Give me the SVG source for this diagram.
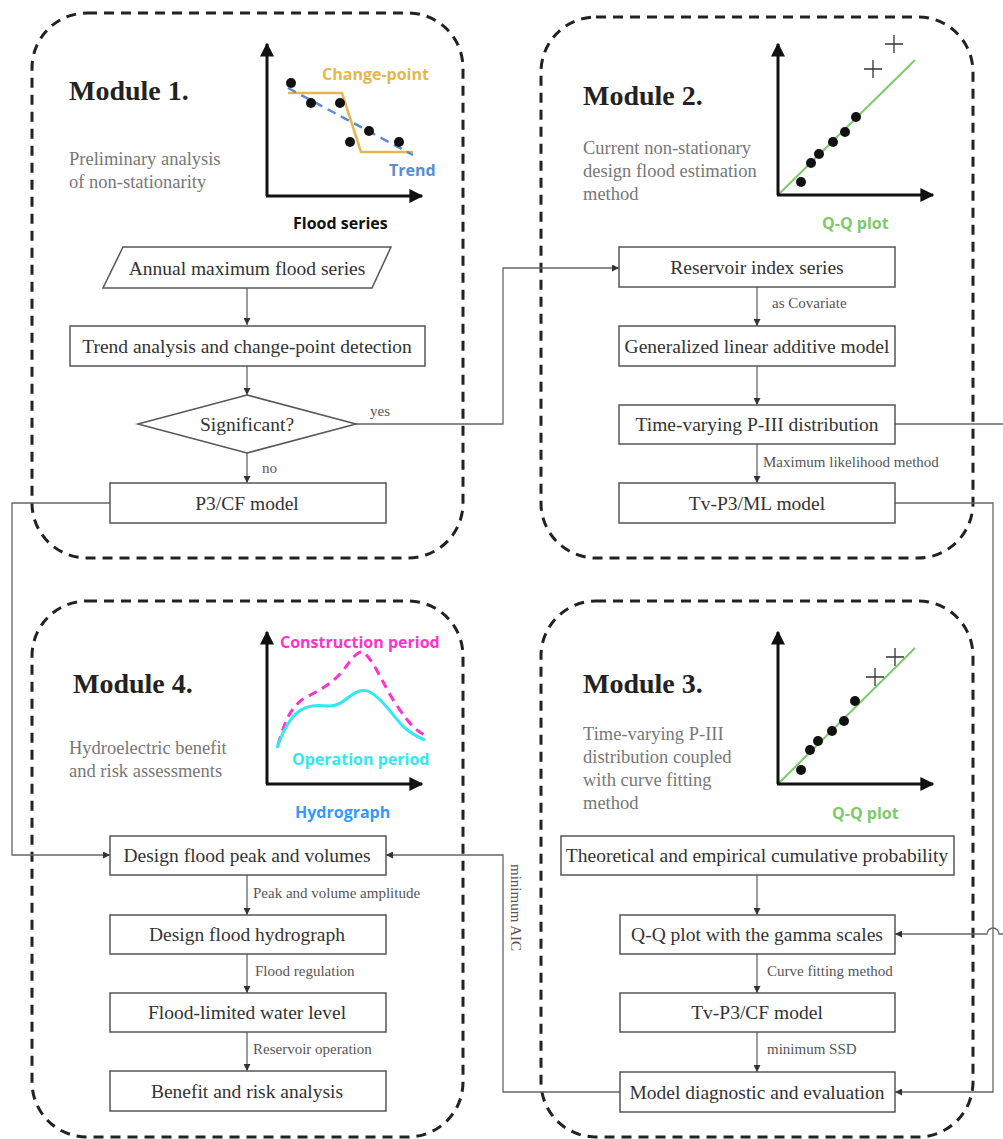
<svg xmlns="http://www.w3.org/2000/svg" width="1003" height="1139" viewBox="0 0 1003 1139">
<defs>
<marker id="ah" viewBox="0 0 10 10" refX="10" refY="5" markerWidth="7" markerHeight="7" markerUnits="userSpaceOnUse" orient="auto"><path d="M0,0 L10,5 L0,10 z" fill="#333"/></marker>
<marker id="ax" viewBox="0 0 10 10" refX="9" refY="5" markerWidth="14" markerHeight="14" markerUnits="userSpaceOnUse" orient="auto"><path d="M0,0 L10,5 L0,10 z" fill="#111"/></marker>
<style>
.mod{fill:none;stroke:#222;stroke-width:3;stroke-dasharray:10 7}
.box{fill:#fff;stroke:#555;stroke-width:1.5}
.bt{font-family:"Liberation Serif",serif;font-size:19.5px;fill:#333;text-anchor:middle}
.title{font-family:"Liberation Serif",serif;font-size:28px;font-weight:bold;fill:#222}
.desc{font-family:"Liberation Serif",serif;font-size:18.5px;fill:#777}
.lbl{font-family:"Liberation Serif",serif;font-size:15px;fill:#555}
.con{fill:none;stroke:#666;stroke-width:1.3}
.axis{fill:none;stroke:#111;stroke-width:3}
.ct{font-family:"Open Sans","DejaVu Sans",sans-serif;font-weight:bold;font-size:16px}
.dot{fill:#111}
.cross{stroke:#333;stroke-width:1.3}
</style>
</defs>

<g id="module1">
<rect class="mod" x="32" y="13" width="431" height="545" rx="55"/>
<text class="title" x="69" y="100">Module 1.</text>
<text class="desc" x="69" y="165">Preliminary analysis</text>
<text class="desc" x="69" y="188">of non-stationarity</text>
<g id="chart1">
<line class="axis" x1="267" y1="196" x2="267" y2="44" marker-end="url(#ax)"/>
<line class="axis" x1="266" y1="196" x2="422" y2="196" marker-end="url(#ax)"/>
<polyline points="288,93 342,93 361,152 413,152" fill="none" stroke="#E2B84F" stroke-width="2.5"/>
<line x1="288" y1="88" x2="413" y2="155" stroke="#5B8BD0" stroke-width="2.5" stroke-dasharray="9 6"/>
<circle class="dot" cx="291" cy="83" r="5"/><circle class="dot" cx="311" cy="103" r="5"/><circle class="dot" cx="340" cy="103" r="5"/><circle class="dot" cx="350" cy="142" r="5"/><circle class="dot" cx="369" cy="131" r="5"/><circle class="dot" cx="399" cy="142" r="5"/>
<text class="ct" x="322" y="80" fill="#E2B84F">Change-point</text>
<text class="ct" x="389" y="176" fill="#5B8BD0">Trend</text>
<text class="ct" x="293" y="229" fill="#111">Flood series</text>
</g>
</g>

<g id="module2">
<rect class="mod" x="541" y="17" width="432" height="541" rx="55"/>
<text class="title" x="583" y="105">Module 2.</text>
<text class="desc" x="583" y="154">Current non-stationary</text>
<text class="desc" x="583" y="177">design flood estimation</text>
<text class="desc" x="583" y="200">method</text>
<g id="chart2">
<line x1="778" y1="195" x2="915" y2="60" stroke="#7BCB6A" stroke-width="2"/>
<line class="axis" x1="778" y1="195" x2="778" y2="44" marker-end="url(#ax)"/>
<line class="axis" x1="777" y1="195" x2="933" y2="195" marker-end="url(#ax)"/>
<circle class="dot" cx="801" cy="182" r="5"/><circle class="dot" cx="811" cy="163" r="5"/><circle class="dot" cx="819" cy="154" r="5"/><circle class="dot" cx="833" cy="142" r="5"/><circle class="dot" cx="845" cy="132" r="5"/><circle class="dot" cx="856" cy="117" r="5"/>
<path class="cross" d="M864,69 h18 M873,60 v18 M885,44 h18 M894,35 v18"/>
<text class="ct" x="822" y="229" fill="#7BCB6A">Q-Q plot</text>
</g>
</g>

<g id="module4">
<rect class="mod" x="32" y="601" width="431" height="536" rx="55"/>
<text class="title" x="73" y="693">Module 4.</text>
<text class="desc" x="69" y="754">Hydroelectric benefit</text>
<text class="desc" x="69" y="777">and risk assessments</text>
<g id="chart4">
<line class="axis" x1="267" y1="784" x2="267" y2="632" marker-end="url(#ax)"/>
<line class="axis" x1="266" y1="784" x2="422" y2="784" marker-end="url(#ax)"/>
<path d="M278,745 C285,720 292,705 305,698 C320,690 335,682 345,668 C352,658 358,651 362,652 C372,655 385,690 400,710 C410,725 418,732 425,735" fill="none" stroke="#FF33CC" stroke-width="3" stroke-dasharray="9 6"/>
<path d="M277,748 C285,725 295,708 312,706 C325,704 333,710 345,700 C355,692 362,688 370,692 C385,700 395,720 405,728 C413,735 420,738 425,740" fill="none" stroke="#33E8F0" stroke-width="3"/>
<text class="ct" x="280" y="648" fill="#FF33CC">Construction period</text>
<text class="ct" x="292" y="765" fill="#33E8F0">Operation period</text>
<text class="ct" x="295" y="818" fill="#3399FF">Hydrograph</text>
</g>
</g>

<g id="module3">
<rect class="mod" x="541" y="601" width="432" height="536" rx="55"/>
<text class="title" x="583" y="693">Module 3.</text>
<text class="desc" x="583" y="740">Time-varying P-III</text>
<text class="desc" x="583" y="763">distribution coupled</text>
<text class="desc" x="583" y="786">with curve fitting</text>
<text class="desc" x="583" y="809">method</text>
<g id="chart3">
<line x1="778" y1="784" x2="915" y2="648" stroke="#7BCB6A" stroke-width="2"/>
<line class="axis" x1="778" y1="784" x2="778" y2="632" marker-end="url(#ax)"/>
<line class="axis" x1="777" y1="784" x2="933" y2="784" marker-end="url(#ax)"/>
<circle class="dot" cx="801" cy="770" r="5"/><circle class="dot" cx="810" cy="750" r="5"/><circle class="dot" cx="818" cy="741" r="5"/><circle class="dot" cx="832" cy="731" r="5"/><circle class="dot" cx="844" cy="721" r="5"/><circle class="dot" cx="855" cy="701" r="5"/>
<path class="cross" d="M866,677 h18 M875,668 v18 M886,657 h18 M895,648 v18"/>
<text class="ct" x="832" y="819" fill="#7BCB6A">Q-Q plot</text>
</g>
</g>

<g id="connectors">
<line class="con" x1="247" y1="288" x2="247" y2="325" marker-end="url(#ah)"/>
<line class="con" x1="247" y1="366" x2="247" y2="395" marker-end="url(#ah)"/>
<line class="con" x1="247" y1="453" x2="247" y2="483" marker-end="url(#ah)"/>
<polyline class="con" points="356,424 503,424 503,268 619,268" marker-end="url(#ah)"/>
<polyline class="con" points="110,503 12,503 12,855 110,855" marker-end="url(#ah)"/>
<line class="con" x1="757" y1="287" x2="757" y2="326" marker-end="url(#ah)"/>
<line class="con" x1="757" y1="366" x2="757" y2="405" marker-end="url(#ah)"/>
<line class="con" x1="757" y1="444" x2="757" y2="483" marker-end="url(#ah)"/>
<line class="con" x1="895" y1="424" x2="1003" y2="424"/>
<polyline class="con" points="895,503 993,503 993,1092 895,1092" marker-end="url(#ah)"/>
<path class="con" d="M1003,934 H999 A6,6 0 0 0 987,934 H895" marker-end="url(#ah)"/>
<line class="con" x1="757" y1="875" x2="757" y2="915" marker-end="url(#ah)"/>
<line class="con" x1="757" y1="954" x2="757" y2="993" marker-end="url(#ah)"/>
<line class="con" x1="757" y1="1032" x2="757" y2="1072" marker-end="url(#ah)"/>
<polyline class="con" points="620,1092 503,1092 503,855 386,855" marker-end="url(#ah)"/>
<line class="con" x1="247" y1="875" x2="247" y2="915" marker-end="url(#ah)"/>
<line class="con" x1="247" y1="954" x2="247" y2="993" marker-end="url(#ah)"/>
<line class="con" x1="247" y1="1032" x2="247" y2="1071" marker-end="url(#ah)"/>
<text class="lbl" x="370" y="416">yes</text>
<text class="lbl" x="262" y="473">no</text>
<text class="lbl" x="772" y="308">as Covariate</text>
<text class="lbl" x="763" y="467">Maximum likelihood method</text>
<text class="lbl" x="767" y="976">Curve fitting method</text>
<text class="lbl" x="767" y="1054">minimum SSD</text>
<text class="lbl" x="253" y="898">Peak and volume amplitude</text>
<text class="lbl" x="255" y="976">Flood regulation</text>
<text class="lbl" x="253" y="1054">Reservoir operation</text>
<text class="lbl" transform="translate(511,864) rotate(90)">minimum AIC</text>
</g>

<g id="n-annual"><polygon class="box" points="123,247 391,247 372,288 103,288"/><text class="bt" x="247" y="275">Annual maximum flood series</text></g>
<g id="n-trend"><rect class="box" x="70" y="326" width="355" height="40"/><text class="bt" x="247" y="353">Trend analysis and change-point detection</text></g>
<g id="n-sig"><polygon class="box" points="247,395 356,424 247,453 138,424"/><text class="bt" x="247" y="431">Significant?</text></g>
<g id="n-p3cf"><rect class="box" x="110" y="483" width="276" height="40"/><text class="bt" x="247" y="510">P3/CF model</text></g>
<g id="n-res"><rect class="box" x="619" y="247" width="276" height="40"/><text class="bt" x="757" y="274">Reservoir index series</text></g>
<g id="n-glam"><rect class="box" x="619" y="326" width="276" height="40"/><text class="bt" x="757" y="353">Generalized linear additive model</text></g>
<g id="n-tvp3"><rect class="box" x="619" y="405" width="276" height="39"/><text class="bt" x="757" y="431">Time-varying P-III distribution</text></g>
<g id="n-tvml"><rect class="box" x="619" y="483" width="276" height="40"/><text class="bt" x="757" y="510">Tv-P3/ML model</text></g>
<g id="n-theo"><rect class="box" x="561" y="836" width="393" height="39"/><text class="bt" x="757" y="862">Theoretical and empirical cumulative probability</text></g>
<g id="n-qq"><rect class="box" x="620" y="915" width="275" height="39"/><text class="bt" x="757" y="941">Q-Q plot with the gamma scales</text></g>
<g id="n-tvcf"><rect class="box" x="620" y="993" width="275" height="39"/><text class="bt" x="757" y="1019">Tv-P3/CF model</text></g>
<g id="n-diag"><rect class="box" x="620" y="1072" width="275" height="40"/><text class="bt" x="757" y="1099">Model diagnostic and evaluation</text></g>
<g id="n-peak"><rect class="box" x="110" y="836" width="276" height="39"/><text class="bt" x="247" y="862">Design flood peak and volumes</text></g>
<g id="n-hydro"><rect class="box" x="110" y="915" width="276" height="39"/><text class="bt" x="247" y="941">Design flood hydrograph</text></g>
<g id="n-flwl"><rect class="box" x="110" y="993" width="276" height="39"/><text class="bt" x="247" y="1019">Flood-limited water level</text></g>
<g id="n-benefit"><rect class="box" x="110" y="1071" width="276" height="40"/><text class="bt" x="247" y="1098">Benefit and risk analysis</text></g>
</svg>
